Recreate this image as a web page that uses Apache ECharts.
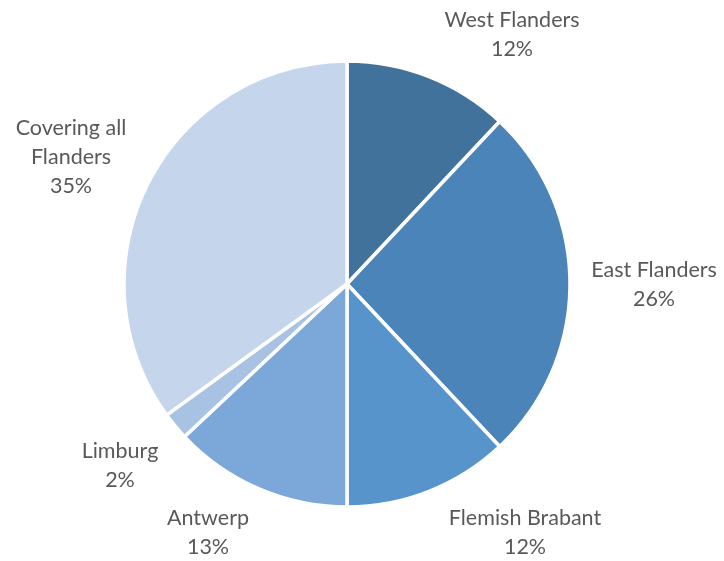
<!DOCTYPE html>
<html>
<head>
<meta charset="utf-8">
<script src="https://cdn.jsdelivr.net/npm/echarts@6/dist/echarts.min.js"></script>
<style>
  html, body { margin: 0; padding: 0; background: #fff; }
  #chart { width: 724px; height: 561px; }
</style>
</head>
<body>
<div id="chart"></div>
<script>
// Share of projects by province
const regions = ['West Flanders', 'East Flanders', 'Flemish Brabant', 'Antwerp', 'Limburg', 'Covering all\nFlanders'];
const shares = [12, 26, 12, 13, 2, 35];

const sliceColors = ['#41729c', '#4a84b8', '#5694cb', '#7ca8d9', '#a8c2e4', '#c5d5eb'];
// label anchor points (text centres) around the pie
const labelAnchors = [[512, 35], [654, 285], [525, 533], [208, 533], [120, 466], [71, 157]];

const chart = echarts.init(document.getElementById('chart'));
chart.setOption({
  animation: false,
  backgroundColor: '#ffffff',
  series: [{
    type: 'pie',
    center: [347, 284],
    radius: 223,
    startAngle: 90,
    clockwise: true,
    data: regions.map((name, i) => ({
      name: name,
      value: shares[i],
      itemStyle: { color: sliceColors[i] }
    })),
    itemStyle: { borderColor: '#ffffff', borderWidth: 3.5 },
    label: {
      show: true,
      position: 'outside',
      alignTo: 'none',
      overflow: 'none',
      width: 300,
      formatter: p => p.name + '\n' + p.value + '%',
      fontFamily: 'Lato',
      fontSize: 21.5,
      lineHeight: 29,
      color: '#595959',
      align: 'center'
    },
    labelLine: { show: false },
    labelLayout: p => ({
      x: labelAnchors[p.dataIndex][0],
      y: labelAnchors[p.dataIndex][1],
      align: 'center',
      verticalAlign: 'middle'
    }),
    emphasis: { disabled: true }
  }]
});
</script>
</body>
</html>
